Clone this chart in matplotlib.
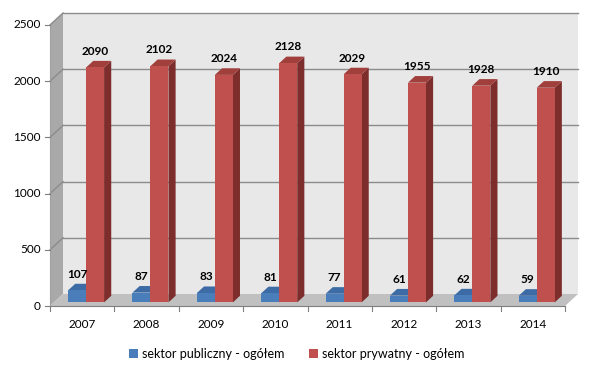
import matplotlib
matplotlib.use("Agg")
import matplotlib.pyplot as plt
from matplotlib.patches import Polygon, Patch

years = ["2007", "2008", "2009", "2010", "2011", "2012", "2013", "2014"]
publiczny = [107, 87, 83, 81, 77, 61, 62, 59]
prywatny = [2090, 2102, 2024, 2128, 2029, 1955, 1928, 1910]
series_names = ["sektor publiczny - ogółem", "sektor prywatny - ogółem"]
yticks = [0, 500, 1000, 1500, 2000, 2500]

FONT = ["Lato", "DejaVu Sans"]
plt.rcParams["font.family"] = FONT

W, H = 593, 369
fig = plt.figure(figsize=(W / 100, H / 100), dpi=100)
# front plane: x 50..565 px, y 25..306 px (top origin)
ax = fig.add_axes([50 / W, (H - 306) / H, (565 - 50) / W, (306 - 25) / H])
n = len(years)
ax.set_xlim(-0.5, n - 0.5)
ax.set_ylim(0, 2500)
ax.axis("off")

px_x = (565 - 50) / n          # px per category
px_y = (306 - 25) / 2500       # px per unit
DX = 13 / px_x
DY = 12 / px_y
x0, x1 = -0.5, n - 0.5
ymax = yticks[-1]

def poly(pts, fc, ec="none", lw=0, z=1):
    p = Polygon(pts, closed=True, facecolor=fc, edgecolor=ec, linewidth=lw,
                clip_on=False, zorder=z)
    ax.add_patch(p)

# walls
poly([(x0 + DX, DY), (x1 + DX, DY), (x1 + DX, ymax + DY), (x0 + DX, ymax + DY)], "#E8E8E8", z=0)
poly([(x0, 0), (x0 + DX, DY), (x0 + DX, ymax + DY), (x0, ymax)], "#A9A9A9", z=0)
poly([(x0, 0), (x1, 0), (x1 + DX, DY), (x0 + DX, DY)], "#C0C0C0", z=0.5)

# gridlines
for v in yticks[1:]:
    ax.plot([x0 + DX, x1 + DX], [v + DY, v + DY], color="#8C8C8C", lw=1, clip_on=False, zorder=0.6)
    ax.plot([x0, x0 + DX], [v, v + DY], color="#8C8C8C", lw=1, clip_on=False, zorder=0.6)

# axis lines & ticks
ax.plot([x0, x0], [0, ymax], color="#A0A0A0", lw=0.8, clip_on=False, zorder=0.7)
ax.plot([x0, x1], [0, 0], color="#7F7F7F", lw=0.8, clip_on=False, zorder=3)
tkx = 5 / px_x
tky = 5 / px_y
for v in yticks:
    ax.plot([x0 - tkx, x0], [v, v], color="#7F7F7F", lw=0.8, clip_on=False)
    ax.text(x0 - 9 / px_x, v, str(v), ha="right", va="center", fontsize=8.5, color="#000000")
for i in range(n + 1):
    ax.plot([x0 + i, x0 + i], [0, -tky], color="#7F7F7F", lw=0.8, clip_on=False)
for i, yl in enumerate(years):
    ax.text(i, -18 / px_y, yl, ha="center", va="center", fontsize=8.5)

# bars
bw = 18 / px_x
f0, f1 = 0.3, 0.85
colors = [("#4A7EBB", "#2D4E78", "#3D6BA5"), ("#C0504D", "#7D2E2C", "#A03F3C")]

def bar3d(xl, val, cols, z):
    front, side, top = cols
    ox, oy = f0 * DX, f0 * DY
    bx, by = f1 * DX, f1 * DY
    ax.bar([xl + bw / 2 + ox], [val], width=bw, bottom=oy, color=front,
           edgecolor="none", zorder=z + 0.2, clip_on=False)
    poly([(xl + bw + ox, oy), (xl + bw + bx, by), (xl + bw + bx, val + by), (xl + bw + ox, val + oy)], side, z=z)
    poly([(xl + ox, val + oy), (xl + bw + ox, val + oy), (xl + bw + bx, val + by), (xl + bx, val + by)], top, z=z + 0.1)

for i in range(n):
    for s, vals in enumerate([publiczny, prywatny]):
        xl = i - bw + s * bw
        bar3d(xl, vals[i], colors[s], 2 + i * 0.01 + s * 0.001)
        ax.annotate(str(vals[i]), (xl + bw / 2 + f0 * DX, vals[i] + f1 * DY),
                    xytext=(0, 3), textcoords="offset points", ha="center", va="bottom",
                    fontsize=8.5, fontweight="bold", zorder=5, annotation_clip=False)

handles = [Patch(facecolor=colors[0][0]), Patch(facecolor=colors[1][0])]
fig.legend(handles, series_names, loc="center", bbox_to_anchor=(0.5, 1 - 354 / H),
           ncol=2, frameon=False, fontsize=9, handlelength=0.7, handleheight=0.7,
           handletextpad=0.3, columnspacing=2.0)

fig.savefig("out.png", dpi=100, facecolor="white")
